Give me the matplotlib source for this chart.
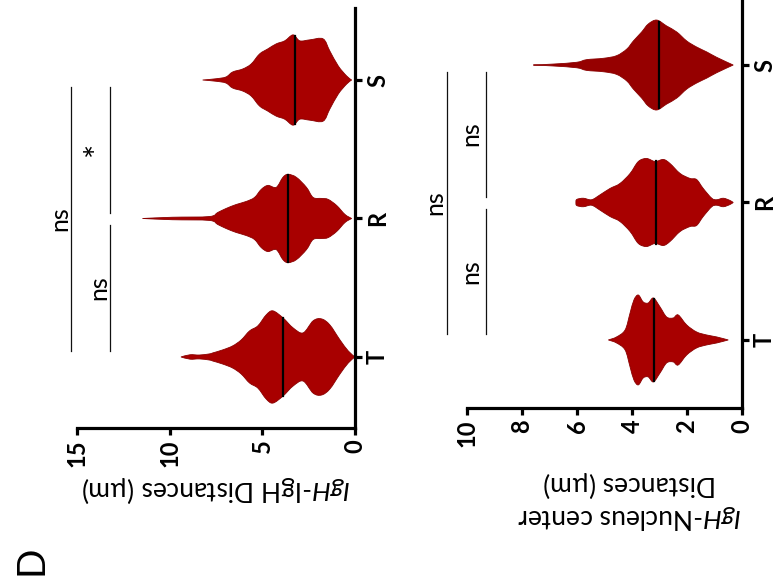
import matplotlib
matplotlib.use("Agg")
import matplotlib.pyplot as plt
from matplotlib.path import Path
from matplotlib.patches import PathPatch
import numpy as np

plt.rcParams['font.family'] = ['Lato', 'DejaVu Sans']
plt.rcParams['mathtext.fontset'] = 'custom'
plt.rcParams['mathtext.rm'] = 'Lato'
plt.rcParams['mathtext.it'] = 'Lato:italic'

groups = ["T", "R", "S"]

# violin outlines: distance value (um) and half width (category units)
igh_igh_T_val = [9.39, 8.90, 8.40, 7.86, 7.68, 7.14, 6.60, 6.14, 5.69, 5.24, 4.79, 4.43, 3.89, 3.34, 2.80, 2.26, 1.81, 1.36, 0.81, 0.36, 0.0]
igh_igh_T_w = [0, .016, .014, .022, .029, .051, .080, .123, .188, .225, .304, .333, .283, .210, .174, .261, .275, .232, .123, .043, 0]
igh_igh_R_val = [11.47, 9.85, 7.86, 7.41, 6.96, 6.41, 5.87, 5.42, 5.06, 4.70, 4.25, 3.89, 3.61, 3.16, 2.62, 2.26, 1.81, 1.45, 0.99, 0.54, 0.18]
igh_igh_R_w = [0, .009, .014, .043, .072, .101, .123, .152, .210, .239, .225, .297, .319, .297, .225, .152, .145, .138, .094, .029, 0]
igh_igh_S_val = [8.22, 7.50, 6.96, 6.60, 6.05, 5.60, 5.15, 4.70, 4.25, 3.79, 3.34, 2.98, 2.44, 1.72, 1.36, 0.90, 0.45, 0.18]
igh_igh_S_w = [0, .009, .022, .058, .080, .116, .188, .225, .261, .283, .326, .283, .290, .297, .210, .101, .029, 0]
igh_igh_median = [3.89, 3.63, 3.25]

igh_nuc_T_val = [4.86, 4.56, 4.25, 4.07, 3.93, 3.77, 3.59, 3.41, 3.22, 2.98, 2.74, 2.50, 2.32, 2.01, 1.65, 1.28, 0.92, 0.50]
igh_nuc_T_w = [0, .022, .073, .196, .291, .327, .276, .269, .305, .240, .167, .160, .182, .109, .058, .036, .022, 0]
igh_nuc_R_val = [6.04, 6.01, 5.77, 5.47, 5.16, 4.80, 4.44, 4.07, 3.77, 3.47, 3.16, 2.86, 2.62, 2.25, 1.89, 1.65, 1.41, 1.10, 0.92, 0.68, 0.44, 0.32]
igh_nuc_R_w = [0, .022, .031, .020, .056, .102, .138, .211, .298, .320, .298, .313, .284, .211, .175, .167, .102, .031, .020, .031, .015, 0]
igh_nuc_S_val = [7.59, 6.86, 6.01, 5.65, 5.04, 4.56, 4.19, 3.95, 3.65, 3.41, 3.10, 2.74, 2.37, 2.01, 1.65, 1.28, 0.92, 0.32]
igh_nuc_S_w = [0, .007, .020, .039, .049, .068, .116, .175, .240, .298, .327, .284, .240, .175, .131, .095, .056, 0]
igh_nuc_median = [3.19, 3.13, 3.01]

# significance: (group a, group b, label)
igh_igh_sig = [(0, 1, "ns"), (1, 2, "*"), (0, 2, "ns")]
igh_nuc_sig = [(0, 1, "ns"), (1, 2, "ns"), (0, 2, "ns")]

RED = "#a80000"
W = 781.0
H = 584.0

fig = plt.figure(figsize=(7.81, 5.84), dpi=100)
ax1 = fig.add_axes([77 / W, 1 - 428 / H, (355 - 77) / W, (428 - 8) / H])
ax2 = fig.add_axes([467 / W, 1 - 408 / H, (742 - 467) / W, 408 / H])


def smooth_edge(pts):
    # catmull-rom through the read points, as bezier segments
    verts = []
    n = len(pts)
    for i in range(n - 1):
        p0 = pts[max(i - 1, 0)]
        p1 = pts[i]
        p2 = pts[i + 1]
        p3 = pts[min(i + 2, n - 1)]
        verts.append(p1 + (p2 - p0) / 6.0)
        verts.append(p2 - (p3 - p1) / 6.0)
        verts.append(p2)
    return verts


def draw_violin(ax, pos, vals, widths, med, color):
    vals = np.array(vals)
    widths = np.array(widths)
    upper = np.column_stack([vals, pos + widths])
    lower = np.column_stack([vals, pos - widths])[::-1]
    verts = [upper[0]] + smooth_edge(upper) + [lower[0]] + smooth_edge(lower) + [upper[0]]
    codes = ([Path.MOVETO] + [Path.CURVE4] * (3 * (len(upper) - 1)) + [Path.LINETO]
             + [Path.CURVE4] * (3 * (len(lower) - 1)) + [Path.CLOSEPOLY])
    patch = PathPatch(Path(verts, codes), facecolor=color, edgecolor="#8a0000", lw=0.6, zorder=2)
    ax.add_patch(patch)
    wm = np.interp(med, vals[::-1], widths[::-1])
    ax.plot([med, med], [pos - wm, pos + wm], color="black", lw=1.6, zorder=3)


def style_axes(ax, vmax, ticks, ylo, yhi):
    ax.set_xlim(vmax, 0)
    ax.set_ylim(ylo, yhi)
    for s in ["left", "top"]:
        ax.spines[s].set_visible(False)
    for s in ["bottom", "right"]:
        ax.spines[s].set_linewidth(2.3)
    ax.set_xticks(ticks)
    ax.set_xticklabels([str(t) for t in ticks], rotation=90, fontweight="bold", fontsize=17)
    ax.yaxis.tick_right()
    ax.set_yticks(range(len(groups)))
    ax.set_yticklabels(groups, rotation=90, fontweight="bold", fontsize=17, va="center")
    ax.tick_params(axis="both", length=5, width=2.3, direction="out", pad=3)


def draw_sig(ax, sig, v_short, v_long, v_short_txt, v_long_txt):
    for a, b, lab in sig:
        if b - a > 1:
            v, vt = v_long, v_long_txt
        else:
            v, vt = v_short, v_short_txt
        ax.plot([v, v], [a + 0.04, b - 0.05], color="#111111", lw=0.9, clip_on=False)
        fs = 24 if lab == "*" else 18
        ax.text(vt, (a + b) / 2.0, lab, rotation=90, ha="center", va="center",
                fontsize=fs, clip_on=False)


draw_violin(ax1, 0, igh_igh_T_val, igh_igh_T_w, igh_igh_median[0], RED)
draw_violin(ax1, 1, igh_igh_R_val, igh_igh_R_w, igh_igh_median[1], RED)
draw_violin(ax1, 2, igh_igh_S_val, igh_igh_S_w, igh_igh_median[2], RED)
style_axes(ax1, 15, [0, 5, 10, 15], -0.513, 2.52)
draw_sig(ax1, igh_igh_sig, 13.22, 15.34, 13.85, 15.95)

draw_violin(ax2, 0, igh_nuc_T_val, igh_nuc_T_w, igh_nuc_median[0], RED)
draw_violin(ax2, 1, igh_nuc_R_val, igh_nuc_R_w, igh_nuc_median[1], RED)
draw_violin(ax2, 2, igh_nuc_S_val, igh_nuc_S_w, igh_nuc_median[2], "#960000")
style_axes(ax2, 10, [0, 2, 4, 6, 8, 10], -0.495, 2.473)
draw_sig(ax2, igh_nuc_sig, 9.31, 10.73, 9.85, 11.16)

fig.text(216 / W, 1 - 490 / H, r"$\it{IgH}$-IgH Distances (µm)", rotation=180,
         ha="center", va="center", fontsize=19)
fig.text(630 / W, 1 - 501 / H, "$\\it{IgH}$-Nucleus center\nDistances (µm)", rotation=180,
         ha="center", va="center", multialignment="center", fontsize=19, linespacing=1.25)
fig.text(32 / W, 1 - 560 / H, "D", rotation=90, ha="center", va="center", fontsize=28)

fig.savefig("out.png", dpi=100)
